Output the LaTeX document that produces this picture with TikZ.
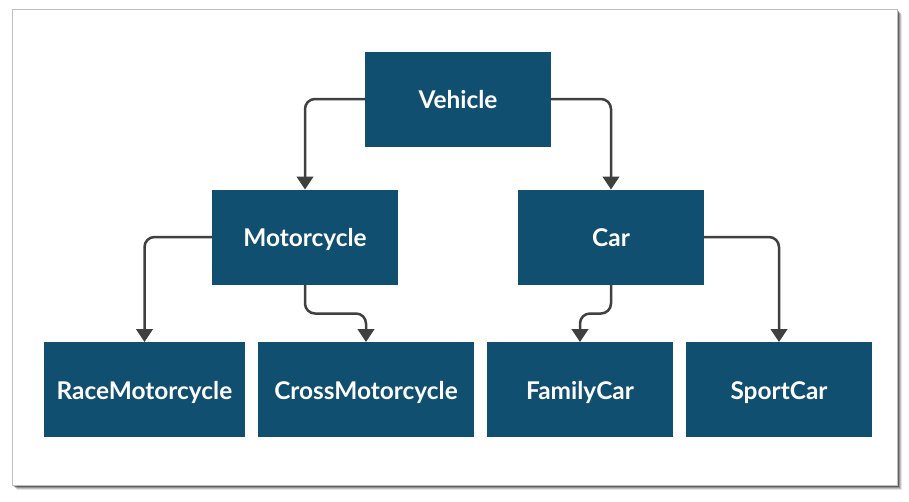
\documentclass[tikz,border=0pt]{standalone}
\usepackage{fontspec}
\setmainfont{Lato}
\usetikzlibrary{arrows.meta}
\definecolor{boxblue}{RGB}{16,79,112}
\definecolor{linegray}{RGB}{64,64,64}
\begin{document}
\begin{tikzpicture}[x=0.02cm, y=-0.02cm, outer sep = 0pt]
  \tikzstyle{node}=[
    rectangle,
    minimum height=95*0.02cm,
    minimum width=186*0.02cm,
    fill=boxblue,
    text=white,
    font=\fontsize{13.9}{16}\selectfont\bfseries,
    text height=11pt,
    text depth=0pt,
    anchor=center
  ]
  \tikzstyle{arrow} = [line width=0.05cm, ->, >={Triangle[length=0.26cm, width=0.33cm]}, draw=linegray, rounded corners=0.2cm]

  \useasboundingbox (0,0) rectangle (909,501);
  % frame with shadow
  \foreach \s/\o in {5/10, 4/16, 3/24, 2/34} {
    \fill[black, opacity=0.\o] (12+\s,9+\s) rectangle (897+\s,485+\s);
  }
  \fill[white] (12,9) rectangle (897,485);
  \draw[black!25, line width=0.02cm] (12,9) rectangle (897,485);

  \node[node] (vehicle) at (458,99) {Vehicle};

  \node[node] (motorcycle) at (305,237) {Motorcycle};
  \node[node] (car) at (611,237) {Car};
  \draw[arrow] (vehicle.west) -| (motorcycle.north);
  \draw[arrow] (vehicle.east) -| (car.north);

  \node[node, minimum width=201*0.02cm] (race) at (144.5,389.5) {RaceMotorcycle};
  \node[node, minimum width=216*0.02cm] (cross) at (366,389.5) {CrossMotorcycle};
  \draw[arrow] (motorcycle.west) -| (race.north);
  \draw[arrow] (motorcycle.south) -- ++(0,29) -| (cross.north);

  \node[node] (family) at (580,389.5) {FamilyCar};
  \node[node] (sport) at (779,389.5) {SportCar};
  \draw[arrow] (car.south) -- ++(0,29) -| (family.north);
  \draw[arrow] (car.east) -| (sport.north);
\end{tikzpicture}
\end{document}
